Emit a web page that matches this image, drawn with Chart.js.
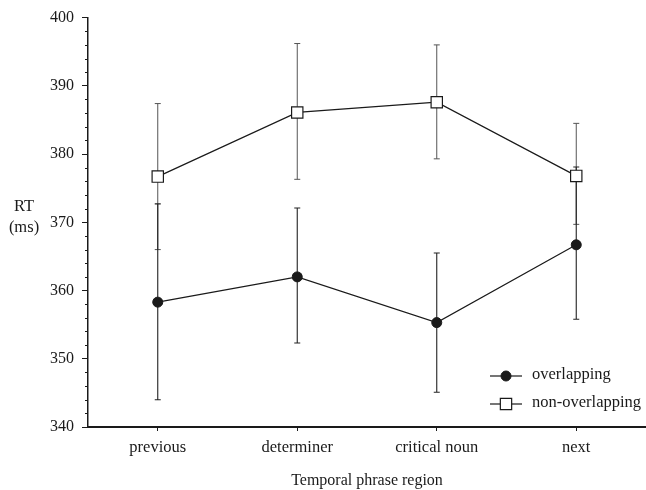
<!DOCTYPE html>
<html>
<head>
<meta charset="utf-8">
<script src="https://cdn.jsdelivr.net/npm/chart.js@4/dist/chart.umd.min.js"></script>
<style>
html,body{margin:0;padding:0;background:#fff;}
#wrap{width:646px;height:490px;position:relative;}
</style>
</head>
<body>
<div id="wrap"><canvas id="c" width="646" height="490"></canvas></div>
<script>
const categories = ['previous', 'determiner', 'critical noun', 'next'];
const seriesNames = ['overlapping', 'non-overlapping'];
const overlapping = [358.3, 362.0, 355.3, 366.7];
const overlappingLow = [344.0, 352.3, 345.1, 355.8];
const overlappingHigh = [372.7, 372.1, 365.5, 378.1];
const nonOverlapping = [376.7, 386.1, 387.6, 376.8];
const nonOverlappingLow = [366.0, 376.3, 379.3, 369.7];
const nonOverlappingHigh = [387.4, 396.2, 396.0, 384.5];
const yTicks = [340, 350, 360, 370, 380, 390, 400];
const yTitle = ['RT', '(ms)'];
const xTitle = 'Temporal phrase region';

const FONT = '"Liberation Serif", "Times New Roman", serif';
const INK = '#1a1a1a';

const errorBars = {
  id: 'errorBars',
  beforeDatasetsDraw(chart) {
    const ctx = chart.ctx, x = chart.scales.x, y = chart.scales.y;
    const sets = [
      {lo: nonOverlappingLow, hi: nonOverlappingHigh, color: '#555', w: 1},
      {lo: overlappingLow, hi: overlappingHigh, color: '#222', w: 1.1}
    ];
    ctx.save();
    sets.forEach(s => {
      ctx.strokeStyle = s.color; ctx.lineWidth = s.w;
      categories.forEach((c, i) => {
        const px = x.getPixelForValue(i);
        const yl = y.getPixelForValue(s.lo[i]), yh = y.getPixelForValue(s.hi[i]);
        ctx.beginPath();
        ctx.moveTo(px, yl); ctx.lineTo(px, yh);
        ctx.moveTo(px - 3, yl); ctx.lineTo(px + 3, yl);
        ctx.moveTo(px - 3, yh); ctx.lineTo(px + 3, yh);
        ctx.stroke();
      });
    });
    ctx.restore();
  }
};

const decorations = {
  id: 'decorations',
  afterDraw(chart) {
    const ctx = chart.ctx, y = chart.scales.y, area = chart.chartArea;
    ctx.save();
    // minor ticks on y axis
    ctx.strokeStyle = INK; ctx.lineWidth = 1;
    for (let v = yTicks[0]; v <= yTicks[yTicks.length - 1]; v += 2) {
      if (yTicks.includes(v)) continue;
      const py = Math.round(y.getPixelForValue(v)) + 0.5;
      ctx.beginPath(); ctx.moveTo(area.left - 3, py); ctx.lineTo(area.left, py); ctx.stroke();
    }
    // y title, horizontal
    ctx.fillStyle = INK;
    ctx.font = '16.5px ' + FONT;
    ctx.textAlign = 'center'; ctx.textBaseline = 'middle';
    ctx.fillText(yTitle[0], 24, 207);
    ctx.fillText(yTitle[1], 24, 228);
    // legend
    const ds = chart.data.datasets;
    const rows = [376, 404];
    ds.forEach((d, i) => {
      const ly = rows[i];
      ctx.strokeStyle = INK; ctx.lineWidth = 1.2;
      ctx.beginPath(); ctx.moveTo(490, ly); ctx.lineTo(522, ly); ctx.stroke();
      ctx.fillStyle = d.pointBackgroundColor;
      ctx.strokeStyle = d.pointBorderColor;
      ctx.lineWidth = d.pointBorderWidth;
      ctx.beginPath();
      if (d.pointStyle === 'circle') {
        ctx.arc(506, ly, d.pointRadius, 0, Math.PI * 2);
      } else {
        const s = d.pointRadius * Math.SQRT1_2;
        ctx.rect(506 - s, ly - s, 2 * s, 2 * s);
      }
      ctx.fill(); ctx.stroke();
      ctx.fillStyle = INK;
      ctx.font = '16.5px ' + FONT;
      ctx.textAlign = 'left'; ctx.textBaseline = 'middle';
      ctx.fillText(d.label, 532, ly - 1);
    });
    ctx.restore();
  }
};

new Chart(document.getElementById('c'), {
  type: 'line',
  data: {
    labels: categories,
    datasets: [
      {
        label: seriesNames[0], data: overlapping,
        borderColor: INK, borderWidth: 1.2,
        pointStyle: 'circle', pointRadius: 5, pointBorderWidth: 1,
        pointBackgroundColor: INK, pointBorderColor: INK, tension: 0
      },
      {
        label: seriesNames[1], data: nonOverlapping,
        borderColor: INK, borderWidth: 1.2,
        pointStyle: 'rect', pointRadius: 8, pointBorderWidth: 1.2,
        pointBackgroundColor: '#fff', pointBorderColor: INK, tension: 0
      }
    ]
  },
  options: {
    responsive: false,
    animation: false,
    events: [],
    layout: {autoPadding: false, padding: {left: 0, right: 0, top: 14, bottom: 0}},
    plugins: {legend: {display: false}, tooltip: {enabled: false}},
    scales: {
      x: {
        type: 'category',
        offset: true,
        grid: {display: true, drawOnChartArea: false, offset: false, tickLength: 4, color: INK, lineWidth: 1},
        border: {display: true, color: INK, width: 2},
        ticks: {color: INK, font: {family: FONT, size: 16.5}, padding: 7, maxRotation: 0},
        title: {display: true, text: xTitle, color: INK, font: {family: FONT, size: 16}, padding: {top: 8, bottom: 0}},
        afterFit(s) { s.height = 63; }
      },
      y: {
        min: 340, max: 400,
        afterBuildTicks(s) { s.ticks = yTicks.map(v => ({value: v})); },
        grid: {display: true, drawOnChartArea: false, tickLength: 6, color: INK, lineWidth: 1},
        border: {display: true, color: INK, width: 1.5},
        ticks: {color: INK, font: {family: FONT, size: 16}, padding: 8},
        afterFit(s) { s.width = 88; }
      }
    }
  },
  plugins: [errorBars, decorations]
});
</script>
</body>
</html>
